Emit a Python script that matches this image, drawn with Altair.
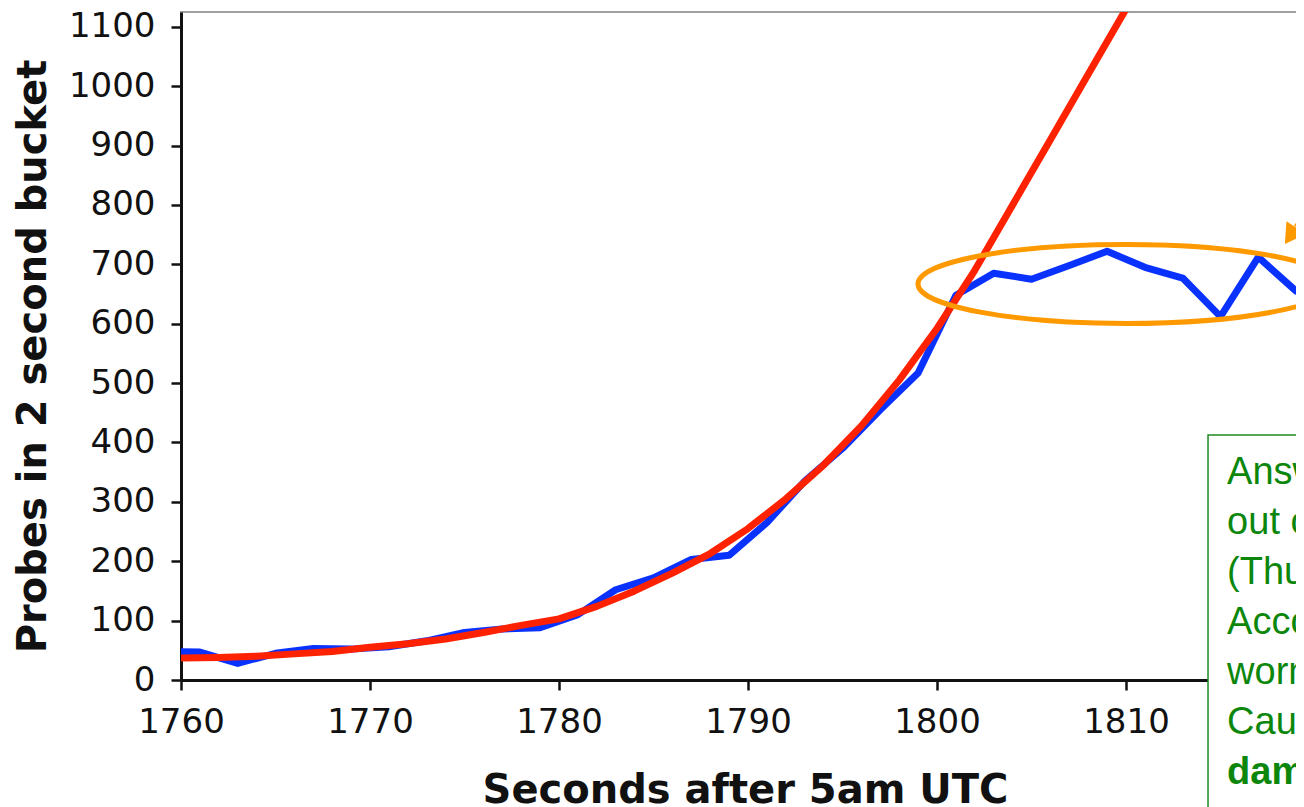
import altair as alt
import pandas as pd

# ---- data ----
blue_t = [1759, 1761, 1763, 1765, 1767, 1769, 1771, 1773, 1775, 1777, 1779, 1781,
          1783, 1785, 1787, 1789, 1791, 1793, 1795, 1797, 1799, 1801, 1803, 1805,
          1807, 1809, 1811, 1813, 1815, 1817, 1819, 1821]
blue_v = [48, 47, 28, 45, 53, 52, 56, 66, 80, 86, 88, 110,
          152, 172, 203, 210, 265, 335, 390, 455, 517, 648, 685, 675,
          698, 722, 695, 677, 612, 712, 655, 700]

red_t = [1760, 1762, 1764, 1766, 1768, 1770, 1772, 1774, 1776, 1778, 1780, 1782,
         1784, 1786, 1788, 1790, 1792, 1794, 1796, 1798, 1800, 1802, 1804, 1806,
         1808, 1810]
red_v = [37, 38, 40, 44, 48, 55, 61, 69, 80, 92, 103, 124,
         150, 180, 213, 255, 305, 362, 428, 505, 592, 690, 800, 910,
         1020, 1130]

x_ticks = [1760, 1770, 1780, 1790, 1800, 1810]
y_ticks = [0, 100, 200, 300, 400, 500, 600, 700, 800, 900, 1000, 1100]

box_lines = ["Answer", "out of", "(Thus", "According", "worm", "Caused"]
box_bold = ["damage"]

# annotation anchors (data coordinates)
ellipse_at = {"t": [1810], "v": [667]}
arrow_head = {"t": [1818.7], "v": [748]}
arrow_shaft = {"t": [1819.0], "v": [763], "t2": [1822.0], "v2": [903]}
box_rect = {"t": [1814.34], "t2": [1832], "v": [412.6], "v2": [-300]}
box_text = {"t": [1815.35], "v": [381.3]}
box_text_bold = {"t": [1815.35], "v": [-123.9]}

blue = pd.DataFrame({"t": blue_t, "v": blue_v})
red = pd.DataFrame({"t": red_t, "v": red_v})

xs = alt.Scale(domain=[1760, 1820], nice=False, zero=False)
ys = alt.Scale(domain=[0, 1125], nice=False, zero=False)

x_axis = alt.Axis(values=x_ticks, format="d", grid=False, labelFlush=False,
                  labelOverlap=False, labelFont="DejaVu Sans", labelFontSize=34,
                  labelColor="#111", labelPadding=15, tickSize=10, tickWidth=2.5,
                  tickColor="#111", domainColor="#111", domainWidth=3,
                  title="Seconds after 5am UTC", titleFont="DejaVu Sans",
                  titleFontSize=40, titleFontWeight="bold", titleColor="#111",
                  titleX=564, titleY=110, titleBaseline="middle")
y_axis = alt.Axis(values=y_ticks, format="d", grid=False, labelFont="DejaVu Sans",
                  labelFontSize=34, labelColor="#111", labelPadding=16, tickSize=10,
                  tickWidth=2.5, tickColor="#111", domainColor="#111", domainWidth=3,
                  title="Probes in 2 second bucket", titleFont="DejaVu Sans",
                  titleFontSize=40, titleFontWeight="bold", titleColor="#111",
                  titleX=-148, titleY=344, titleBaseline="middle", titleAngle=270)

blue_line = alt.Chart(blue).mark_line(color="#0a32ff", strokeWidth=7, clip=True,
                                      strokeJoin="round").encode(
    x=alt.X("t:Q", scale=xs, axis=x_axis),
    y=alt.Y("v:Q", scale=ys, axis=y_axis))

red_line = alt.Chart(red).mark_line(color="#ff2200", strokeWidth=7, clip=True,
                                    strokeJoin="round").encode(
    x=alt.X("t:Q", scale=xs), y=alt.Y("v:Q", scale=ys))

ellipse = alt.Chart(pd.DataFrame(ellipse_at)).mark_point(
    shape="M -1 0 A 1 0.19 0 1 1 1 0 A 1 0.19 0 1 1 -1 0 Z",
    size=173056, filled=False, stroke="#ff9900", strokeWidth=5, opacity=1).encode(
    x=alt.X("t:Q", scale=xs), y=alt.Y("v:Q", scale=ys))

shaft = alt.Chart(pd.DataFrame(arrow_shaft)).mark_rule(
    color="#ff9900", strokeWidth=5).encode(
    x=alt.X("t:Q", scale=xs), y=alt.Y("v:Q", scale=ys),
    x2="t2:Q", y2="v2:Q")

head = alt.Chart(pd.DataFrame(arrow_head)).mark_point(
    shape="triangle-up", size=529, filled=True, fill="#ff9900", opacity=1,
    angle=213.9, strokeWidth=0).encode(
    x=alt.X("t:Q", scale=xs), y=alt.Y("v:Q", scale=ys))

box = alt.Chart(pd.DataFrame(box_rect)).mark_rect(
    fill="white", stroke="#1f8a1f", strokeWidth=1.5).encode(
    x=alt.X("t:Q", scale=xs), x2="t2:Q",
    y=alt.Y("v:Q", scale=ys), y2="v2:Q")

text = alt.Chart(pd.DataFrame(box_text)).mark_text(
    text=box_lines, align="left", baseline="top", lineHeight=50,
    font="Liberation Sans", fontSize=38, color="#0c870c").encode(
    x=alt.X("t:Q", scale=xs), y=alt.Y("v:Q", scale=ys))

text_bold = alt.Chart(pd.DataFrame(box_text_bold)).mark_text(
    text=box_bold, align="left", baseline="top", lineHeight=50,
    font="Liberation Sans", fontSize=38, fontWeight="bold", color="#0c870c").encode(
    x=alt.X("t:Q", scale=xs), y=alt.Y("v:Q", scale=ys))

chart = alt.layer(blue_line, red_line, ellipse, shaft, head, box, text, text_bold).properties(
    width=1134, height=668,
    padding={"left": 173, "top": 4, "right": -19, "bottom": 127},
    autosize=alt.AutoSizeParams(type="none"),
).configure_view(stroke="#a0a0a0", strokeWidth=2)

chart.save("out.html", embed_options={"renderer": "svg", "actions": False})
